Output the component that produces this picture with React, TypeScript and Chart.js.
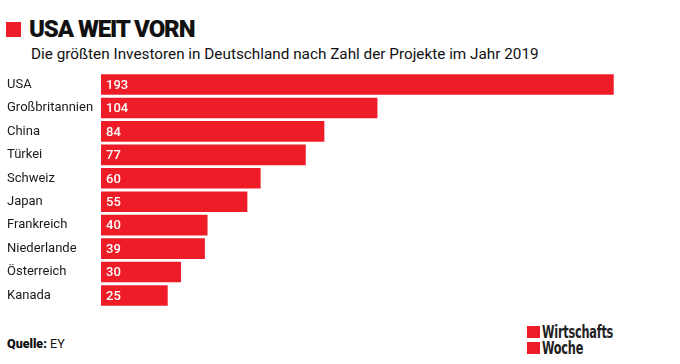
import React, { useEffect, useRef } from "react";
import { Chart, registerables } from "chart.js";

Chart.register(...registerables);

const categories = [
  "USA",
  "Großbritannien",
  "China",
  "Türkei",
  "Schweiz",
  "Japan",
  "Frankreich",
  "Niederlande",
  "Österreich",
  "Kanada",
];
const projects = [193, 104, 84, 77, 60, 55, 40, 39, 30, 25];

const RED = "#ee1c27";

const valueLabels = {
  id: "valueLabels",
  afterDatasetsDraw(chart: any) {
    const ctx = chart.ctx;
    const meta = chart.getDatasetMeta(0);
    ctx.save();
    ctx.fillStyle = "#ffffff";
    ctx.font = "500 13px Roboto, 'Open Sans', sans-serif";
    ctx.textAlign = "left";
    ctx.textBaseline = "middle";
    meta.data.forEach((bar: any, i: number) => {
      const v = chart.data.datasets[0].data[i];
      ctx.fillText(String(v), bar.base + 5, bar.y + 1);
    });
    ctx.restore();
  },
};

export default function App() {
  const ref = useRef<HTMLCanvasElement>(null);

  useEffect(() => {
    if (!ref.current) return;
    const chart = new Chart(ref.current, {
      type: "bar",
      data: {
        labels: categories,
        datasets: [
          {
            data: projects,
            backgroundColor: RED,
            borderWidth: 0,
            barThickness: 20,
          },
        ],
      },
      options: {
        indexAxis: "y",
        animation: false,
        responsive: false,
        maintainAspectRatio: false,
        layout: { padding: { left: 7, right: 48, top: 0, bottom: 0 } },
        plugins: {
          legend: { display: false },
          tooltip: { enabled: false },
          title: { display: false },
        },
        scales: {
          x: { display: false, min: 0, max: 200 },
          y: {
            grid: { display: false },
            border: { display: false },
            ticks: {
              crossAlign: "far",
              color: "#1a1a1a",
              font: { family: "Roboto, 'Open Sans', sans-serif", size: 13 },
            },
            afterFit(scale: any) {
              scale.width = 94;
            },
          },
        },
      },
      plugins: [valueLabels],
    });
    return () => chart.destroy();
  }, []);

  return (
    <div
      style={{
        position: "absolute",
        left: 0,
        top: 0,
        width: 680,
        height: 364,
        background: "#fff",
        fontFamily: "Roboto, 'Open Sans', sans-serif",
        color: "#111",
      }}
    >
      <div
        style={{
          position: "absolute",
          left: 6,
          top: 22,
          width: 15,
          height: 15,
          background: RED,
        }}
      />
      <div
        style={{
          position: "absolute",
          left: 29,
          top: 14,
          fontSize: 24,
          fontWeight: 900,
          letterSpacing: -1.1,
          lineHeight: "30px",
          whiteSpace: "nowrap",
        }}
      >
        USA WEIT VORN
      </div>
      <div
        style={{
          position: "absolute",
          left: 31,
          top: 44,
          fontSize: 15.3,
          lineHeight: "20px",
          whiteSpace: "nowrap",
        }}
      >
        Die größten Investoren in Deutschland nach Zahl der Projekte im Jahr 2019
      </div>
      <canvas
        ref={ref}
        width={680}
        height={256}
        style={{ position: "absolute", left: 0, top: 62, width: 680, height: 256 }}
      />
      <div
        style={{
          position: "absolute",
          left: 7,
          top: 335,
          fontSize: 12.5,
          lineHeight: "18px",
          whiteSpace: "nowrap",
        }}
      >
        <span style={{ fontWeight: 900 }}>Quelle:</span> EY
      </div>
      <div style={{ position: "absolute", left: 527, top: 326, width: 13, height: 12, background: RED }} />
      <div style={{ position: "absolute", left: 527, top: 342, width: 13, height: 12, background: RED }} />
      <div
        style={{
          position: "absolute",
          left: 542,
          top: 324,
          fontFamily: "'Liberation Sans Narrow', 'DejaVu Sans Condensed', sans-serif",
          fontWeight: 700,
          fontSize: 17,
          lineHeight: "16px",
          letterSpacing: -0.3,
          color: "#222",
          transform: "scaleX(0.74)",
          transformOrigin: "left top",
          whiteSpace: "nowrap",
        }}
      >
        Wirtschafts
        <br />
        Woche
      </div>
    </div>
  );
}
